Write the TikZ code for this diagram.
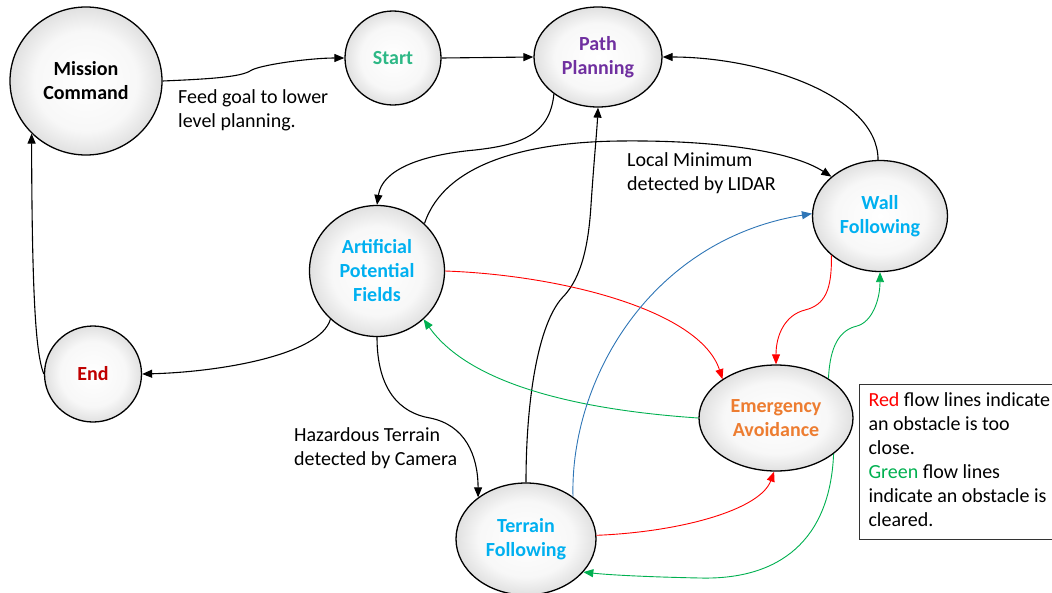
\documentclass[tikz,border=0pt]{standalone}
\usepackage{fontspec}
\setmainfont{Carlito}
\usetikzlibrary{shapes.geometric,arrows.meta}
\pgfdeclareradialshading{bubble}{\pgfpoint{0bp}{0bp}}{color(0bp)=(white); color(17bp)=(white!97!black); color(25bp)=(black!12); color(50bp)=(black!12)}
\definecolor{startc}{RGB}{46,184,134}
\definecolor{pathc}{RGB}{112,48,160}
\definecolor{cyanc}{RGB}{0,176,240}
\definecolor{orangec}{RGB}{237,125,49}
\definecolor{endc}{RGB}{192,0,0}
\definecolor{redl}{RGB}{255,0,0}
\definecolor{greenl}{RGB}{0,176,80}
\definecolor{bluel}{RGB}{46,117,182}
\tikzset{
  state/.style={ellipse, draw=black, line width=1.3pt, shading=bubble, align=center, inner sep=0pt,
    font=\bfseries\fontsize{20}{24}\selectfont},
  flow/.style={line width=1.1pt, -{Triangle[length=10pt,width=8pt]}},
  cflow/.style={line width=0.9pt, -{Triangle[length=10pt,width=8pt]}},
  lbl/.style={align=left, inner sep=0pt, font=\fontsize{20}{24}\selectfont},
}
\begin{document}
\begin{tikzpicture}[x=1pt,y=-1pt]
\useasboundingbox (0,0) rectangle (1052,592);

\node[state, minimum width=152pt, minimum height=148pt] (mission) at (86,81) {Mission\\Command};
\node[state, text=startc, minimum width=96pt, minimum height=94pt] (start) at (393,58) {Start};
\node[state, text=pathc, minimum width=128pt, minimum height=100pt] (path) at (598,57) {Path\\Planning};
\node[state, text=cyanc, minimum width=135pt, minimum height=111pt] (wall) at (880,216) {Wall\\Following};
\node[state, text=cyanc, minimum width=135pt, minimum height=131pt] (apf) at (377,271) {Artificial\\Potential\\Fields};
\node[state, text=orangec, minimum width=154pt, minimum height=106pt] (emerg) at (776,418) {Emergency\\Avoidance};
\node[state, text=cyanc, minimum width=140pt, minimum height=112pt] (terrain) at (526,539) {Terrain\\Following};
\node[state, text=endc, minimum width=97pt, minimum height=96pt] (end) at (93,374) {End};

% black connectors
\draw[flow] (mission.east) .. controls (210,79) and (240,77) .. (250,71) .. controls (258,65) and (310,58) .. (start.west);
\draw[flow] (start.east) -- (path.west);
\draw[flow] (wall.92) .. controls (878,95) and (760,57) .. (path.east);
\draw[flow] (path.220) .. controls (550,135) and (520,145) .. (475,150) .. controls (420,155) and (382,170) .. (apf.north);
\draw[flow] (apf.45) .. controls (445,162) and (530,142) .. (620,141) .. controls (710,140) and (790,150) .. (wall.141);
\draw[flow] (terrain.north) .. controls (526,400) and (538,325) .. (562,298) .. controls (578,282) and (588,255) .. (591,205) .. controls (594,160) and (597,130) .. (path.south);
\draw[flow] (apf.226) .. controls (320,355) and (220,372) .. (end.east);
\draw[flow] (end.180) .. controls (36,355) and (32,300) .. (mission.224);
\draw[flow] (apf.south) .. controls (377,390) and (400,413) .. (430,418) .. controls (465,425) and (478,455) .. (terrain.139);

% red connectors
\draw[cflow, redl] (apf.east) .. controls (560,275) and (700,310) .. (emerg.144);
\draw[cflow, redl] (wall.219) .. controls (832,290) and (825,305) .. (805,310) .. controls (785,315) and (776,335) .. (emerg.north);
\draw[cflow, redl] (terrain.3) .. controls (680,532) and (760,510) .. (emerg.268);

% green connectors
\draw[cflow, greenl] (emerg.west) .. controls (580,410) and (470,385) .. (apf.314);
\draw[cflow, greenl] (emerg.37) .. controls (830,345) and (840,330) .. (857,326) .. controls (872,322) and (880,300) .. (wall.south);
\draw[cflow, greenl] (emerg.328) .. controls (830,540) and (780,580) .. (700,578) .. controls (650,577) and (610,575) .. (terrain.330);

% blue connector
\draw[cflow, bluel] (terrain.42) .. controls (570,380) and (650,240) .. (wall.178);

% labels
\node[lbl, anchor=west] (lfeed) at (178,110) {Feed goal to lower\\level planning.};
\node[lbl, anchor=west] (llocal) at (627,173) {Local Minimum\\detected by LIDAR};
\node[lbl, anchor=west] (lhaz) at (294,448) {Hazardous Terrain\\detected by Camera};

% legend
\node[draw=black!80, line width=1pt, anchor=north west, align=left, inner xsep=9pt, inner ysep=8pt,
  font=\fontsize{20}{24}\selectfont] (legend) at (859,384)
  {\textcolor{redl}{Red} flow lines indicate\\an obstacle is too\\close.\\\textcolor{greenl}{Green} flow lines\\indicate an obstacle is\\cleared.\rule[-5pt]{0pt}{5pt}};
\end{tikzpicture}
\end{document}
